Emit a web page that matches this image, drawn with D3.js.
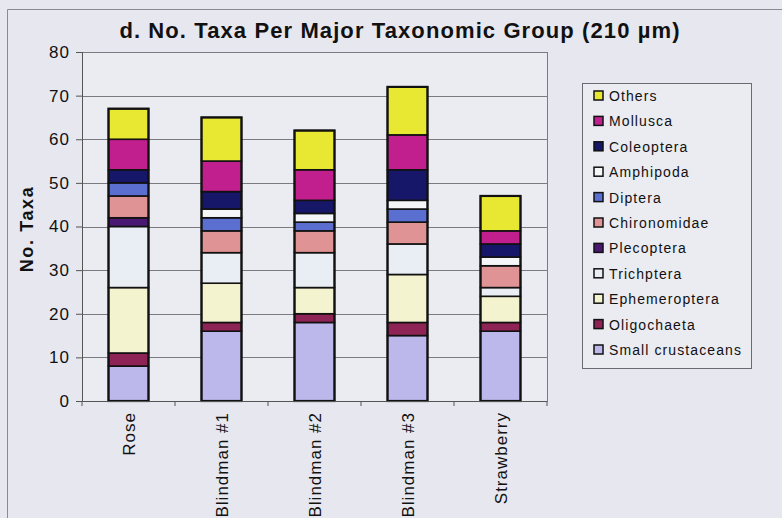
<!DOCTYPE html>
<html>
<head>
<meta charset="utf-8">
<script src="https://cdn.jsdelivr.net/npm/d3@7"></script>
<style>
  html, body { margin: 0; padding: 0; background: #e7e7ef; }
  svg { display: block; }
  text { font-family: "Liberation Sans", Arial, sans-serif; fill: #111; }
</style>
</head>
<body>
<svg id="chart" width="782" height="518"></svg>
<script>
// Sites along the x axis
const sites = ["Rose", "Blindman #1", "Blindman #2", "Blindman #3", "Strawberry"];

// Taxonomic groups, bottom of each stack first
const groups = ["Small crustaceans", "Oligochaeta", "Ephemeroptera", "Trichptera", "Plecoptera",
                "Chironomidae", "Diptera", "Amphipoda", "Coleoptera", "Mollusca", "Others"];

// Number of taxa per group, one value per site
const smallCrustaceans = [8, 16, 18, 15, 16];
const oligochaeta      = [3, 2, 2, 3, 2];
const ephemeroptera    = [15, 9, 6, 11, 6];
const trichoptera      = [14, 7, 8, 7, 2];
const plecoptera       = [2, 0, 0, 0, 0];
const chironomidae     = [5, 5, 5, 5, 5];
const diptera          = [3, 3, 2, 3, 0];
const amphipoda        = [0, 2, 2, 2, 2];
const coleoptera       = [3, 4, 3, 7, 3];
const mollusca         = [7, 7, 7, 8, 3];
const others           = [7, 10, 9, 11, 8];

const yTicks = [0, 10, 20, 30, 40, 50, 60, 70, 80];

const colors = ["#bcb8ec", "#8e2456", "#f3f3cf", "#e8eef4", "#4a1872",
                "#df9394", "#5a6fd0", "#f5f6f8", "#17176a", "#c21f8e", "#e8e832"];

const seriesValues = [smallCrustaceans, oligochaeta, ephemeroptera, trichoptera, plecoptera,
                      chironomidae, diptera, amphipoda, coleoptera, mollusca, others];

// Build rows for the stack layout
const rows = sites.map((s, i) => {
  const r = { site: s };
  groups.forEach((g, j) => { r[g] = seriesValues[j][i]; });
  return r;
});
const stacked = d3.stack().keys(groups)(rows);

const svg = d3.select("#chart");

// Outer chart frame
svg.append("path")
  .attr("d", "M7.5,518 V9.5 H782")
  .attr("fill", "none").attr("stroke", "#8a8a92").attr("stroke-width", 1);

const plot = { left: 82, right: 547, top: 52, bottom: 401 };

const x = d3.scaleBand().domain(sites)
  .range([plot.left, plot.right])
  .paddingInner(0.57).paddingOuter(0.285);
const y = d3.scaleLinear().domain([0, 80]).range([plot.bottom, plot.top]);

// Plot area background
svg.append("rect")
  .attr("x", plot.left).attr("y", plot.top)
  .attr("width", plot.right - plot.left).attr("height", plot.bottom - plot.top)
  .attr("fill", "#ebebf2");

// Horizontal gridlines
svg.append("g").selectAll("line")
  .data(yTicks.filter(t => t > 0))
  .join("line")
  .attr("x1", plot.left).attr("x2", plot.right)
  .attr("y1", d => Math.round(y(d)) + 0.5).attr("y2", d => Math.round(y(d)) + 0.5)
  .attr("stroke", "#7a7a80").attr("stroke-width", 1);

// Right border of plot area
svg.append("line")
  .attr("x1", plot.right + 0.5).attr("x2", plot.right + 0.5)
  .attr("y1", plot.top).attr("y2", plot.bottom)
  .attr("stroke", "#7a7a80");

// Stacked bars
const layer = svg.append("g").selectAll("g")
  .data(stacked)
  .join("g")
  .attr("fill", (d, i) => colors[i]);

layer.selectAll("rect")
  .data(d => d.filter(p => p[1] - p[0] > 0))
  .join("rect")
  .attr("x", d => x(d.data.site))
  .attr("width", x.bandwidth())
  .attr("y", d => y(d[1]))
  .attr("height", d => y(d[0]) - y(d[1]))
  .attr("stroke", "#111")
  .attr("stroke-width", 1.6);

// Outline of each full bar
svg.append("g").selectAll("rect")
  .data(rows)
  .join("rect")
  .attr("x", d => x(d.site))
  .attr("width", x.bandwidth())
  .attr("y", d => y(d3.sum(groups, g => d[g])))
  .attr("height", d => y(0) - y(d3.sum(groups, g => d[g])))
  .attr("fill", "none")
  .attr("stroke", "#111")
  .attr("stroke-width", 2.2);

// Y axis
const yAxis = svg.append("g")
  .attr("transform", `translate(${plot.left},0)`)
  .call(d3.axisLeft(y).tickValues(yTicks).tickSize(6).tickPadding(6));
yAxis.select(".domain").attr("stroke", "#555");
yAxis.selectAll(".tick line").attr("stroke", "#555");
yAxis.selectAll(".tick text")
  .attr("font-size", 17)
  .attr("letter-spacing", 1)
  .attr("font-family", "'Liberation Sans', Arial, sans-serif")
  .attr("fill", "#111");

// X axis with ticks between categories
const xAxis = svg.append("g")
  .attr("transform", `translate(0,${plot.bottom})`)
  .call(d3.axisBottom(x).tickSize(0).tickPadding(0));
xAxis.select(".domain").attr("stroke", "#555");
xAxis.selectAll(".tick text").remove();
const step = x.step();
const bounds = d3.range(sites.length + 1).map(i => plot.left + i * step);
xAxis.append("g").selectAll("line")
  .data(bounds)
  .join("line")
  .attr("x1", d => d).attr("x2", d => d)
  .attr("y1", 0).attr("y2", 5)
  .attr("stroke", "#555");

// Rotated category labels
svg.append("g").selectAll("text")
  .data(sites)
  .join("text")
  .attr("transform", d => `translate(${x(d) + x.bandwidth() / 2 + 6},412) rotate(-90)`)
  .attr("text-anchor", "end")
  .attr("font-size", 17)
  .attr("letter-spacing", 1)
  .text(d => d);

// Y axis title
svg.append("text")
  .attr("transform", "translate(33,229) rotate(-90)")
  .attr("text-anchor", "middle")
  .attr("font-size", 18)
  .attr("letter-spacing", 1.6)
  .attr("font-weight", "bold")
  .text("No. Taxa");

// Chart title
svg.append("text")
  .attr("x", 400).attr("y", 38)
  .attr("text-anchor", "middle")
  .attr("font-size", 22)
  .attr("letter-spacing", 1.1)
  .attr("font-weight", "bold")
  .text("d. No. Taxa Per Major Taxonomic Group (210 µm)");

// Legend, top entry is the top of the stack
const legend = svg.append("g");
legend.append("rect")
  .attr("x", 582.5).attr("y", 83.5)
  .attr("width", 169).attr("height", 285)
  .attr("fill", "#ebebf2")
  .attr("stroke", "#6a6a70");

const legendOrder = groups.map((g, i) => ({ g, c: colors[i] })).reverse();
const item = legend.selectAll("g.item")
  .data(legendOrder)
  .join("g")
  .attr("class", "item")
  .attr("transform", (d, i) => `translate(594,${96 + i * 25.4})`);
item.append("rect")
  .attr("x", 0).attr("y", -5)
  .attr("width", 9).attr("height", 9)
  .attr("fill", d => d.c)
  .attr("stroke", "#111")
  .attr("stroke-width", 1.5);
item.append("text")
  .attr("x", 15).attr("y", 5)
  .attr("font-size", 14)
  .attr("letter-spacing", 1.1)
  .text(d => d.g);
</script>
</body>
</html>
